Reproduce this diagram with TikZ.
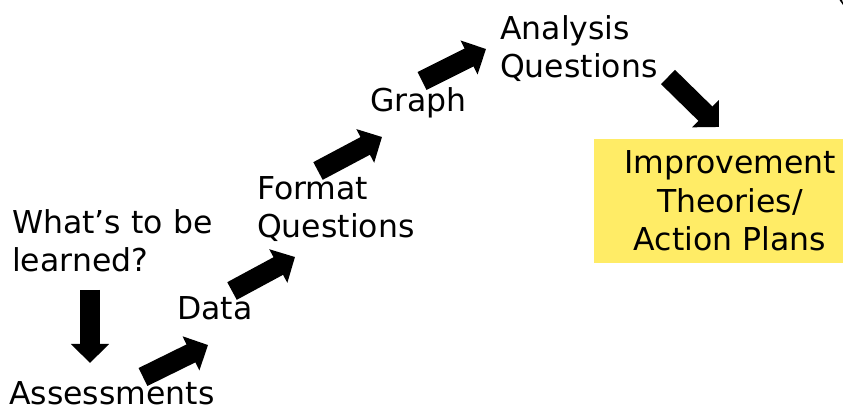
\documentclass[tikz,border=0pt]{standalone}
\usepackage{fontspec}
\setmainfont{DejaVu Sans}
\usetikzlibrary{arrows.meta}
\definecolor{planyellow}{RGB}{255,236,102}

\begin{document}
\begin{tikzpicture}[x=1pt, y=-1pt,
    stage/.style={anchor=base west, inner sep=0pt, align=left,
                  font=\fontsize{31.5}{38.5}\selectfont},
    fatarrow/.style={line width=20pt, -{Triangle[length=19pt, width=37pt]}}]
    \useasboundingbox (0,0) rectangle (843,411);

    % --- 各个阶段 (基线取最后一行) ---
    \node[stage] (goal)     at (12,272)  {What’s to be\\learned?};
    \node[stage] (assess)   at (9,404)   {Assessments};
    \node[stage] (data)     at (177,320) {Data};
    \node[stage] (format)   at (257,238) {Format\\Questions};
    \node[stage] (graph)    at (370,112) {Graph};
    \node[stage] (analysis) at (500,78)  {Analysis\\Questions};

    % --- 改进方案 (黄色框) ---
    \fill[planyellow] (594,139) rectangle (843,263);
    \node[stage, anchor=base, align=center] (plan) at (730,251)
      {Improvement\\Theories/\\Action Plans};

    % --- 箭头端点 ---
    \coordinate (goal-out)     at (90,290);
    \coordinate (assess-in)    at (90,363);
    \coordinate (assess-out)   at (143,377);
    \coordinate (data-in)      at (208,345);
    \coordinate (data-out)     at (232,291);
    \coordinate (format-in)    at (295,257);
    \coordinate (format-out)   at (318,171);
    \coordinate (graph-in)     at (382,137);
    \coordinate (graph-out)    at (422,81);
    \coordinate (analysis-in)  at (486,49);
    \coordinate (analysis-out) at (668,77);
    \coordinate (plan-in)      at (719,127);

    % --- 箭头 ---
    \draw[fatarrow] (goal-out) -- (assess-in);
    \draw[fatarrow] (assess-out) -- (data-in);
    \draw[fatarrow] (data-out) -- (format-in);
    \draw[fatarrow] (format-out) -- (graph-in);
    \draw[fatarrow] (graph-out) -- (analysis-in);
    \draw[fatarrow] (analysis-out) -- (plan-in);

    % 右上角的小笔画
    \fill (839.5,0) -- (842,0) -- (843,3) -- (843,5) -- cycle;
\end{tikzpicture}
\end{document}
